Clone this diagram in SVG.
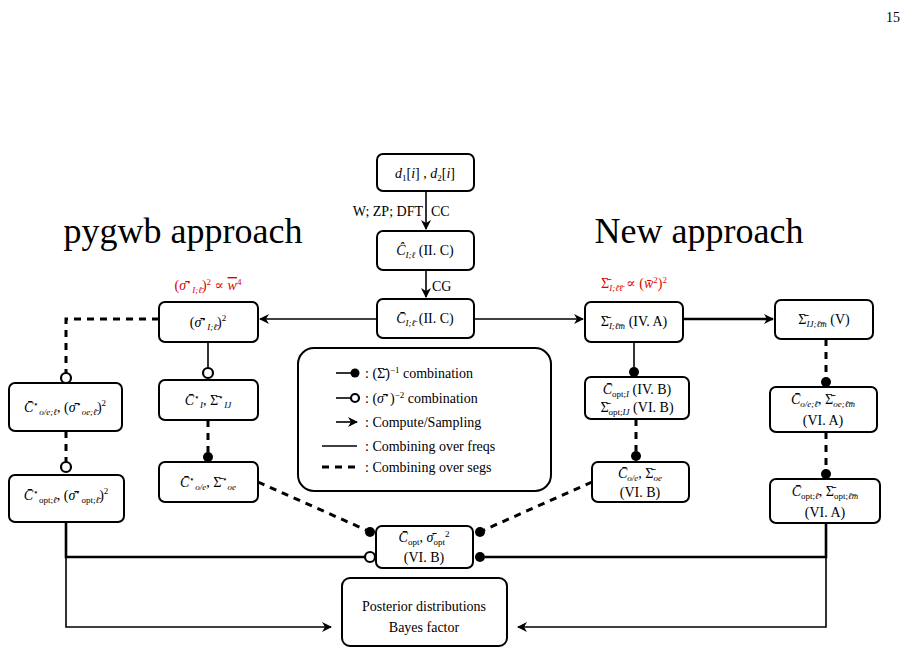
<svg xmlns="http://www.w3.org/2000/svg" width="914" height="654" viewBox="0 0 914 654">
<defs>
<marker id="ar" viewBox="0 0 10 10" refX="9" refY="5" markerWidth="10" markerHeight="10" markerUnits="userSpaceOnUse" orient="auto"><path d="M0,0 L10,5 L0,10 L3,5 z" fill="#000"/></marker>
<style>
.n{fill:#fff;stroke:#000;stroke-width:2}
text{font-family:"Liberation Serif","DejaVu Serif",serif;fill:#000}
.t{font-size:14px;text-anchor:middle}
.s{font-size:9px}
.i{font-style:italic}
.l{stroke:#000;stroke-width:1.6;fill:none}
.w{stroke-width:2.6}
.d{stroke:#000;stroke-width:3;fill:none;stroke-dasharray:7,6}
.fd{fill:#000}
.od{fill:#fff;stroke:#000;stroke-width:2.2}
.red{fill:#e00000}
</style>
</defs>
<rect width="914" height="654" fill="#fff"/>
<text x="893" y="22" font-size="14" text-anchor="middle">15</text>
<text x="183" y="243" font-size="36" text-anchor="middle">pygwb approach</text>
<text x="699" y="243" font-size="36" text-anchor="middle">New approach</text>
<text class="t red" x="208" y="290" font-size="15">(<tspan class="i">σ̄</tspan><tspan class="s" dy="-5">⋆</tspan><tspan class="s i" dy="8">I;ℓ̄</tspan><tspan dy="-3">)</tspan><tspan class="s" dy="-5">2</tspan><tspan dy="5"> ∝ </tspan><tspan class="i" text-decoration="overline">w</tspan><tspan class="s" dy="-5">4</tspan></text>
<text class="t red" x="634" y="288" font-size="15">Σ̄<tspan class="s i" dy="3">I;ℓ̄ℓ̄</tspan><tspan dy="-3"> ∝ (</tspan><tspan class="i">w̄</tspan><tspan class="s" dy="-5">2</tspan><tspan dy="5">)</tspan><tspan class="s" dy="-5">2</tspan></text>

<g id="connectors">
<path class="l" d="M426,191 V229" marker-end="url(#ar)"/>
<path class="l" d="M426,270 V297" marker-end="url(#ar)"/>
<path class="l" d="M377,319 H260" marker-end="url(#ar)"/>
<path class="l" d="M474,319 H583" marker-end="url(#ar)"/>
<path class="l w" d="M683,319 H773" marker-end="url(#ar)"/>
<path class="d" d="M159,319 H66 V373"/>
<path class="l" d="M208,342 V368"/>
<path class="d" d="M208,420 V452"/>
<path class="d" d="M66,431 V462"/>
<path class="d" d="M258,482 L366,530"/>
<path class="l" d="M634,342 V367"/>
<path class="d" d="M636,419 V451"/>
<path class="d" d="M592,482 L484,530"/>
<path class="d" d="M826,339 V377"/>
<path class="d" d="M826,432 V469"/>
<path class="l w" d="M66,522 V557 H365"/>
<path class="l w" d="M826,523 V557 H485"/>
<path class="l" d="M66,557 V627 H331" marker-end="url(#ar)"/>
<path class="l" d="M826,557 V627 H518" marker-end="url(#ar)"/>
<circle class="od" cx="66" cy="378" r="5"/>
<circle class="od" cx="208" cy="373" r="5"/>
<circle class="fd" cx="208" cy="457" r="5"/>
<circle class="od" cx="66" cy="467" r="5"/>
<circle class="fd" cx="370" cy="532" r="5"/>
<circle class="fd" cx="634" cy="372" r="5"/>
<circle class="fd" cx="636" cy="456" r="5"/>
<circle class="fd" cx="480" cy="532" r="5"/>
<circle class="fd" cx="826" cy="382" r="5"/>
<circle class="fd" cx="826" cy="474" r="5"/>
<circle class="od" cx="370" cy="557" r="5"/>
<circle class="fd" cx="480" cy="557" r="5"/>
<text x="423" y="216" font-size="14" text-anchor="end">W; ZP; DFT</text>
<text x="431" y="216" font-size="14">CC</text>
<text x="432" y="291" font-size="14">CG</text>
</g>

<g id="n-d"><rect class="n" x="377" y="154" width="97" height="37" rx="6"/><text class="t" x="425" y="178"><tspan class="i">d</tspan><tspan class="s" dy="3">1</tspan><tspan dy="-3">[</tspan><tspan class="i">i</tspan>] , <tspan class="i">d</tspan><tspan class="s" dy="3">2</tspan><tspan dy="-3">[</tspan><tspan class="i">i</tspan>]</text></g>
<g id="n-chat"><rect class="n" x="377" y="231" width="97" height="39" rx="6"/><text class="t" x="425" y="255" font-size="12"><tspan class="i">Ĉ</tspan><tspan class="s i" dy="3">I;ℓ</tspan><tspan dy="-3"> (II. C)</tspan></text></g>
<g id="n-cbar"><rect class="n" x="377" y="299" width="97" height="39" rx="6"/><text class="t" x="425" y="323" font-size="12"><tspan class="i">C̄</tspan><tspan class="s i" dy="3">I;ℓ̄</tspan><tspan dy="-3"> (II. C)</tspan></text></g>
<g id="n-sig"><rect class="n" x="159" y="302" width="99" height="40" rx="6"/><text class="t" x="208" y="327">(<tspan class="i">σ̄</tspan><tspan class="s" dy="-5">⋆</tspan><tspan class="s i" dy="8">I;ℓ̄</tspan><tspan dy="-3">)</tspan><tspan class="s" dy="-6">2</tspan></text></g>
<g id="n-ci"><rect class="n" x="159" y="380" width="99" height="40" rx="6"/><text class="t" x="208" y="405"><tspan class="i">C̄</tspan><tspan class="s" dy="-5">⋆</tspan><tspan class="s i" dy="8">I</tspan><tspan dy="-3">,  Σ̄</tspan><tspan class="s" dy="-5">⋆</tspan><tspan class="s i" dy="8">IJ</tspan></text></g>
<g id="n-coe"><rect class="n" x="159" y="462" width="99" height="40" rx="6"/><text class="t" x="208" y="487"><tspan class="i">C̄</tspan><tspan class="s" dy="-5">⋆</tspan><tspan class="s i" dy="8">o/e</tspan><tspan dy="-3">,  Σ̄</tspan><tspan class="s" dy="-5">⋆</tspan><tspan class="s i" dy="8">oe</tspan></text></g>
<g id="n-l1"><rect class="n" x="9" y="383" width="113" height="48" rx="6"/><text class="t" x="65" y="412"><tspan class="i">C̄</tspan><tspan class="s" dy="-5">⋆</tspan><tspan class="s i" dy="8">o/e;ℓ</tspan><tspan dy="-3">, (</tspan><tspan class="i">σ̄</tspan><tspan class="s" dy="-5">⋆</tspan><tspan class="s i" dy="8">oe;ℓ̄</tspan><tspan dy="-3">)</tspan><tspan class="s" dy="-6">2</tspan></text></g>
<g id="n-l2"><rect class="n" x="9" y="475" width="115" height="47" rx="6"/><text class="t" x="66" y="500"><tspan class="i">C̄</tspan><tspan class="s" dy="-5">⋆</tspan><tspan class="s" dy="8">opt;<tspan class="i">ℓ̄</tspan></tspan><tspan dy="-3">, (</tspan><tspan class="i">σ̄</tspan><tspan class="s" dy="-5">⋆</tspan><tspan class="s" dy="8">opt;<tspan class="i">ℓ̄</tspan></tspan><tspan dy="-3">)</tspan><tspan class="s" dy="-6">2</tspan></text></g>
<g id="n-sI"><rect class="n" x="585" y="302" width="98" height="40" rx="6"/><text class="t" x="634" y="326" font-size="13">Σ̄<tspan class="s i" dy="3">I;ℓ̄m̄</tspan><tspan dy="-3"> (IV. A)</tspan></text></g>
<g id="n-sIJ"><rect class="n" x="775" y="300" width="98" height="39" rx="6"/><text class="t" x="824" y="324" font-size="13">Σ̄<tspan class="s i" dy="3">IJ;ℓ̄m̄</tspan><tspan dy="-3"> (V)</tspan></text></g>
<g id="n-copt"><rect class="n" x="585" y="377" width="104" height="42" rx="6"/><text class="t" x="637" y="394" font-size="13"><tspan class="i">C̄</tspan><tspan class="s" dy="3">opt;<tspan class="i">I</tspan></tspan><tspan dy="-3"> (IV. B)</tspan></text><text class="t" x="637" y="412" font-size="13">Σ̄<tspan class="s" dy="3">opt;<tspan class="i">IJ</tspan></tspan><tspan dy="-3"> (VI. B)</tspan></text></g>
<g id="n-coeR"><rect class="n" x="592" y="462" width="97" height="40" rx="6"/><text class="t" x="640" y="478" font-size="13"><tspan class="i">C̄</tspan><tspan class="s i" dy="3">o/e</tspan><tspan dy="-3">, Σ̄</tspan><tspan class="s i" dy="3">oe</tspan></text><text class="t" x="640" y="497" font-size="13">(VI. B)</text></g>
<g id="n-r1"><rect class="n" x="770" y="387" width="107" height="45" rx="6"/><text class="t" x="823" y="404" font-size="13"><tspan class="i">C̄</tspan><tspan class="s i" dy="3">o/e;ℓ̄</tspan><tspan dy="-3">, Σ̄</tspan><tspan class="s i" dy="3">oe;ℓ̄m̄</tspan></text><text class="t" x="823" y="425" font-size="13">(VI. A)</text></g>
<g id="n-r2"><rect class="n" x="770" y="479" width="110" height="44" rx="6"/><text class="t" x="825" y="496" font-size="13"><tspan class="i">C̄</tspan><tspan class="s" dy="3">opt;<tspan class="i">ℓ̄</tspan></tspan><tspan dy="-3">, Σ̄</tspan><tspan class="s" dy="3">opt;<tspan class="i">ℓ̄m̄</tspan></tspan></text><text class="t" x="825" y="517" font-size="13">(VI. A)</text></g>
<g id="n-opt"><rect class="n" x="376" y="526" width="97" height="42" rx="6"/><text class="t" x="424" y="542" font-size="12"><tspan class="i">C̄</tspan><tspan class="s" dy="3">opt</tspan><tspan dy="-3">, </tspan><tspan class="i">σ̄</tspan><tspan class="s" dy="3">opt</tspan><tspan class="s" dy="-8">2</tspan></text><text class="t" x="424" y="562" font-size="12">(VI. B)</text></g>
<g id="n-post"><rect class="n" x="342" y="578" width="165" height="68" rx="8"/><text class="t" x="424" y="611" font-size="15">Posterior distributions</text><text class="t" x="424" y="632" font-size="15">Bayes factor</text></g>

<g id="legend">
<rect class="n" x="298" y="348" width="253" height="143" rx="16"/>
<path class="l" d="M336,373 H352"/><circle class="fd" cx="355" cy="373" r="4.5"/>
<text x="365" y="378" font-size="14">: (Σ̄)<tspan class="s" dy="-5">−1</tspan><tspan dy="5"> combination</tspan></text>
<path class="l" d="M336,398 H351"/><circle class="od" cx="355" cy="398" r="4"/>
<text x="365" y="403" font-size="14">: (<tspan class="i">σ̄</tspan><tspan class="s" dy="-5">⋆</tspan><tspan dy="5">)</tspan><tspan class="s" dy="-5">−2</tspan><tspan dy="5"> combination</tspan></text>
<path class="l" d="M336,422 H357" marker-end="url(#ar)"/>
<text x="365" y="427" font-size="14">: Compute/Sampling</text>
<path class="l" d="M322,446 H357"/>
<text x="365" y="451" font-size="14">: Combining over freqs</text>
<path class="d" d="M322,467 H358"/>
<text x="365" y="472" font-size="14">: Combining over segs</text>
</g>
</svg>
